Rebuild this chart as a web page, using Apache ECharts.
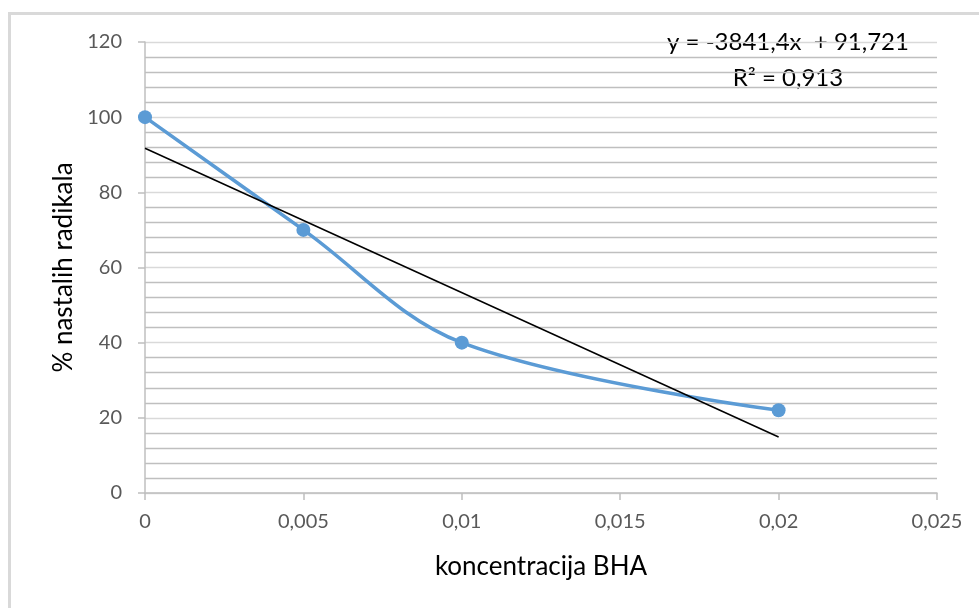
<!DOCTYPE html>
<html><head><meta charset="utf-8">
<script src="https://cdn.jsdelivr.net/npm/echarts@6/dist/echarts.min.js"></script>
<style>
html,body{margin:0;padding:0;background:#fff;}
#frame{position:absolute;left:8px;top:12px;width:1000px;height:700px;border-left:3px solid #d9d9d9;border-top:3px solid #d9d9d9;box-sizing:border-box;}
#c{position:absolute;left:0;top:0;width:979px;height:608px;}
</style></head>
<body>
<div id="frame"></div>
<div id="c"></div>
<script>
const concentrations = [0, 0.005, 0.01, 0.02];
const radicalPercent = [100, 70, 40, 22];
const trendX = [0, 0.02];
const trendY = [91.721, 14.893];
const xTicks = ['0', '0,005', '0,01', '0,015', '0,02', '0,025'];
const equationText = 'y = -3841,4x  + 91,721';
const r2Text = 'R² = 0,913';

const font = 'Lato, "Open Sans", sans-serif';
const chart = echarts.init(document.getElementById('c'), null, {renderer: 'canvas'});
chart.setOption({
  animation: false,
  backgroundColor: 'transparent',
  grid: {left: 145, right: 42, top: 42, bottom: 115, containLabel: false},
  xAxis: {
    type: 'value', min: 0, max: 0.025, interval: 0.005,
    name: 'koncentracija BHA', nameLocation: 'middle', nameGap: 61,
    nameTextStyle: {fontFamily: font, fontSize: 26, color: '#000'},
    axisLine: {show: true, lineStyle: {color: '#bfbfbf', width: 1.5}},
    axisTick: {show: true, length: 7, lineStyle: {color: '#bfbfbf', width: 1.5}},
    axisLabel: {fontFamily: font, fontSize: 20, color: '#595959', margin: 19,
      formatter: function (v) { const i = Math.round(v / 0.005); return xTicks[i] !== undefined ? xTicks[i] : ''; }},
    splitLine: {show: false}
  },
  yAxis: {
    type: 'value', min: 0, max: 120, interval: 20,
    name: '% nastalih radikala', nameLocation: 'middle', nameGap: 67, nameRotate: 90,
    nameTextStyle: {fontFamily: font, fontSize: 26, color: '#000'},
    axisLine: {show: true, lineStyle: {color: '#bfbfbf', width: 1.5}},
    axisTick: {show: true, length: 7, lineStyle: {color: '#bfbfbf', width: 1.5}},
    axisLabel: {fontFamily: font, fontSize: 20, color: '#595959', margin: 23},
    splitLine: {show: true, lineStyle: {color: '#d9d9d9', width: 1.3}},
    minorTick: {show: false, splitNumber: 5},
    minorSplitLine: {show: true, lineStyle: {color: '#bfbfbf', width: 1.3}}
  },
  series: [
    {
      type: 'line', name: 'data',
      data: concentrations.map((x, i) => [x, radicalPercent[i]]),
      smooth: 0.35,
      symbol: 'circle', symbolSize: 14,
      lineStyle: {color: '#5b9bd5', width: 3.5},
      itemStyle: {color: '#5b9bd5'},
      z: 3
    },
    {
      type: 'line', name: 'trend',
      data: trendX.map((x, i) => [x, trendY[i]]),
      symbol: 'none',
      lineStyle: {color: '#000', width: 1.5},
      z: 4
    }
  ],
  graphic: [
    {type: 'text', x: 788, y: 42, style: {text: equationText, font: '24px ' + font, fill: '#000', textAlign: 'center', textVerticalAlign: 'middle'}},
    {type: 'text', x: 788, y: 78, style: {text: r2Text, font: '24px ' + font, fill: '#000', textAlign: 'center', textVerticalAlign: 'middle'}}
  ]
});
</script>
</body></html>
